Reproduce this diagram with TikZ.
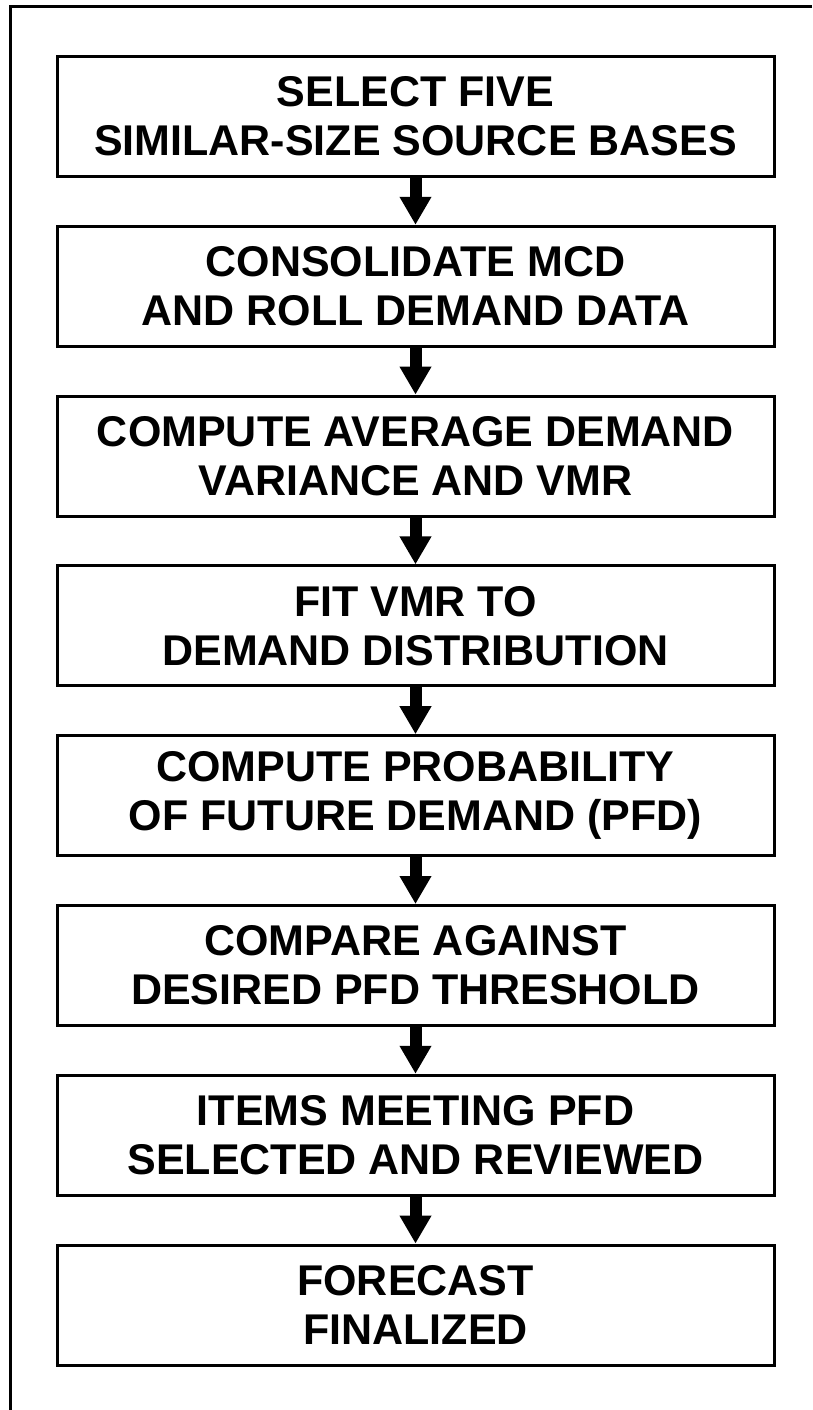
\documentclass[tikz,border=0pt]{standalone}
\usepackage{fontspec}
\setmainfont{Liberation Sans}
\usetikzlibrary{arrows.meta}
\begin{document}
\begin{tikzpicture}[x=1pt,y=-1pt,
  stepbox/.style={draw, line width=3pt, minimum width=717pt, minimum height=120pt,
    inner sep=0pt, anchor=north, align=center,
    font=\fontsize{43}{49}\selectfont\bfseries},
  flowarrow/.style={line width=12pt, -{Triangle[width=30pt,length=28pt]}}]
\useasboundingbox (0,0) rectangle (812,1410);
% outer frame (only its top and left sides fall inside the sheet)
\draw[line width=3pt] (812,7) -- (10,7) -- (10,1410);
% process steps
\node[stepbox] (s1) at (415.5,55)          {SELECT FIVE\\SIMILAR-SIZE SOURCE BASES};
\node[stepbox] (s2) at (415.5,55+169.8)    {CONSOLIDATE MCD\\AND ROLL DEMAND DATA};
\node[stepbox] (s3) at (415.5,55+2*169.8)  {COMPUTE AVERAGE DEMAND\\VARIANCE AND VMR};
\node[stepbox] (s4) at (415.5,55+3*169.8)  {FIT VMR TO\\DEMAND DISTRIBUTION};
\node[stepbox] (s5) at (415.5,55+4*169.8)  {COMPUTE PROBABILITY\\OF FUTURE DEMAND (PFD)};
\node[stepbox] (s6) at (415.5,55+5*169.8)  {COMPARE AGAINST\\DESIRED PFD THRESHOLD};
\node[stepbox] (s7) at (415.5,55+6*169.8)  {ITEMS MEETING PFD\\SELECTED AND REVIEWED};
\node[stepbox] (s8) at (415.5,55+7*169.8)  {FORECAST\\FINALIZED};
% connectors
\foreach \a/\b in {s1/s2,s2/s3,s3/s4,s4/s5,s5/s6,s6/s7,s7/s8}
  \draw[flowarrow] (\a.south) -- (\b.north);
\end{tikzpicture}
\end{document}
